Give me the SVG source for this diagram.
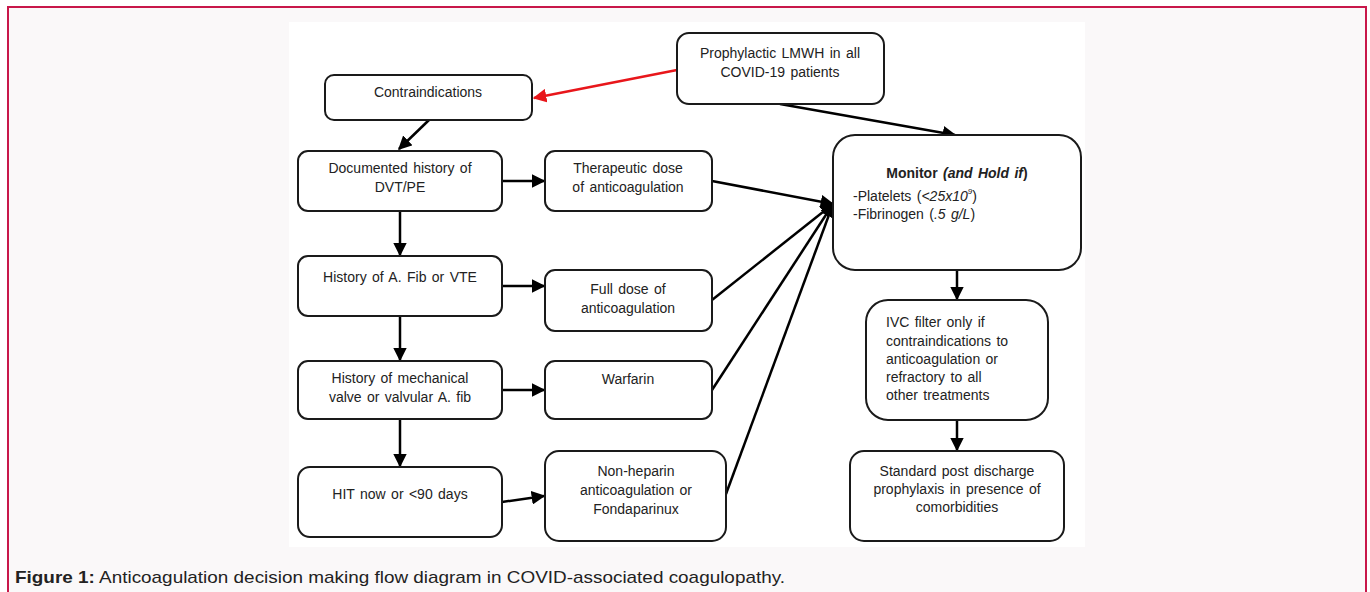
<svg xmlns="http://www.w3.org/2000/svg" width="1370" height="592" viewBox="0 0 1370 592">
<defs>
<style>
.box{fill:#fff;stroke:#1a1a1a;stroke-width:2}
.t{font-family:"Liberation Sans",Arial,sans-serif;font-size:14px;fill:#222;text-anchor:middle;word-spacing:1.5px}
.tl{font-family:"Liberation Sans",Arial,sans-serif;font-size:14px;fill:#222;word-spacing:1.5px}
.c{stroke:#000;stroke-width:2.5;fill:none;marker-end:url(#ah)}
.cr{stroke:#e8161b;stroke-width:2.5;fill:none;marker-end:url(#ahr)}
</style>
<marker id="ah" viewBox="0 0 10 10" refX="9" refY="5" markerWidth="5.5" markerHeight="5.5" orient="auto" markerUnits="strokeWidth"><path d="M0,0 L10,5 L0,10 z" fill="#000"/></marker>
<marker id="ahr" viewBox="0 0 10 10" refX="9" refY="5" markerWidth="5.5" markerHeight="5.5" orient="auto" markerUnits="strokeWidth"><path d="M0,0 L10,5 L0,10 z" fill="#e8161b"/></marker>
</defs>
<rect x="0" y="0" width="1370" height="592" fill="#fff"/>
<rect x="8" y="7" width="1358" height="600" fill="#faf8f9" stroke="#c8174a" stroke-width="2"/>
<rect x="289" y="22" width="796" height="525" fill="#fff"/>

<g id="connectors">
<path class="cr" d="M677,70 L534,98"/>
<path class="c" d="M780,104 L955,135"/>
<path class="c" d="M429,120 L399,149"/>
<path class="c" d="M400,211 L400,255"/>
<path class="c" d="M400,316 L400,360"/>
<path class="c" d="M400,419 L400,466"/>
<path class="c" d="M502,181 L544,181"/>
<path class="c" d="M502,286 L544,286"/>
<path class="c" d="M502,390 L544,390"/>
<path class="c" d="M502,502 L544,496"/>
<path class="c" d="M712,181 L833,204"/>
<path class="c" d="M712,300 L833,204"/>
<path class="c" d="M712,390 L833,204"/>
<path class="c" d="M726,494 L833,204"/>
<path class="c" d="M957,270 L957,299"/>
<path class="c" d="M957,420 L957,450"/>
</g>

<g id="prophylactic">
<rect class="box" x="677" y="33" width="207" height="71" rx="12"/>
<text class="t" x="780" y="58">Prophylactic LMWH in all</text>
<text class="t" x="780" y="77">COVID-19 patients</text>
</g>
<g id="contraindications">
<rect class="box" x="325" y="75" width="207" height="45" rx="9"/>
<text class="t" x="428" y="97">Contraindications</text>
</g>
<g id="doc-history">
<rect class="box" x="298" y="151" width="204" height="60" rx="10"/>
<text class="t" x="400" y="173">Documented history of</text>
<text class="t" x="400" y="192">DVT/PE</text>
</g>
<g id="therapeutic">
<rect class="box" x="545" y="151" width="167" height="60" rx="10"/>
<text class="t" x="628" y="173">Therapeutic dose</text>
<text class="t" x="628" y="192">of anticoagulation</text>
</g>
<g id="afib">
<rect class="box" x="298" y="256" width="204" height="60" rx="10"/>
<text class="t" x="400" y="282">History of A. Fib or VTE</text>
</g>
<g id="fulldose">
<rect class="box" x="545" y="270" width="167" height="61" rx="10"/>
<text class="t" x="628" y="294">Full dose of</text>
<text class="t" x="628" y="313">anticoagulation</text>
</g>
<g id="mechanical">
<rect class="box" x="298" y="361" width="204" height="58" rx="10"/>
<text class="t" x="400" y="383">History of mechanical</text>
<text class="t" x="400" y="402">valve or valvular  A. fib</text>
</g>
<g id="warfarin">
<rect class="box" x="545" y="361" width="167" height="58" rx="10"/>
<text class="t" x="628" y="384">Warfarin</text>
</g>
<g id="hit">
<rect class="box" x="298" y="467" width="204" height="70" rx="12"/>
<text class="t" x="400" y="499">HIT now or &lt;90 days</text>
</g>
<g id="nonheparin">
<rect class="box" x="545" y="451" width="181" height="90" rx="14"/>
<text class="t" x="636" y="476">Non-heparin</text>
<text class="t" x="636" y="495">anticoagulation or</text>
<text class="t" x="636" y="514">Fondaparinux</text>
</g>
<g id="monitor">
<rect class="box" x="833" y="135" width="248" height="135" rx="22"/>
<text class="t" x="957" y="178" font-weight="bold">Monitor <tspan font-style="italic">(and Hold if</tspan>)</text>
<text class="tl" x="853" y="201">-Platelets (<tspan font-style="italic">&lt;25x10</tspan><tspan font-style="italic" font-size="8" dy="-7">9</tspan><tspan dy="7">)</tspan></text>
<text class="tl" x="853" y="219">-Fibrinogen  (<tspan font-style="italic">.5 g/L</tspan>)</text>
</g>
<g id="ivc">
<rect class="box" x="866" y="300" width="182" height="120" rx="22"/>
<text class="tl" x="886" y="327">IVC filter only if</text>
<text class="tl" x="886" y="346">contraindications  to</text>
<text class="tl" x="886" y="364">anticoagulation or</text>
<text class="tl" x="886" y="382">refractory to all</text>
<text class="tl" x="886" y="400">other treatments</text>
</g>
<g id="standard">
<rect class="box" x="850" y="451" width="214" height="90" rx="14"/>
<text class="t" x="957" y="476">Standard post discharge</text>
<text class="t" x="957" y="494">prophylaxis in presence of</text>
<text class="t" x="957" y="512">comorbidities</text>
</g>

<text x="15" y="583" font-family="'Liberation Sans',Arial,sans-serif" font-size="17" fill="#222" textLength="770" lengthAdjust="spacingAndGlyphs"><tspan font-weight="bold">Figure 1:</tspan> Anticoagulation decision making flow diagram in COVID-associated coagulopathy.</text>
</svg>
